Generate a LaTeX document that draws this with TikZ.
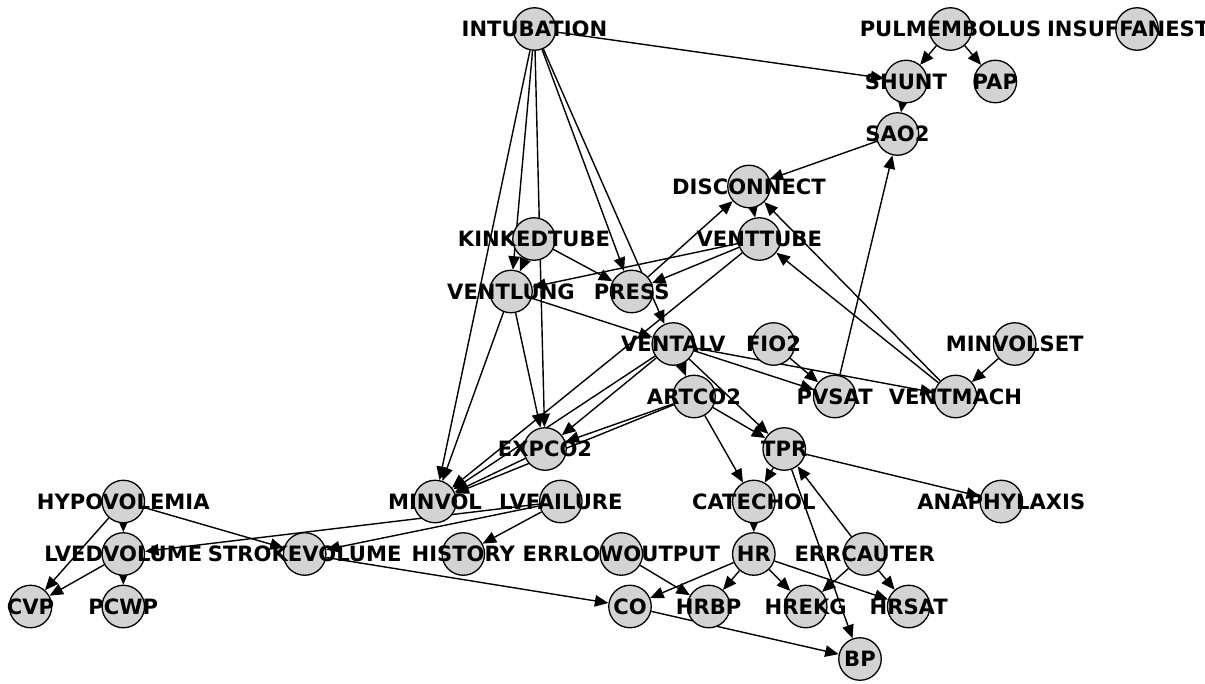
\documentclass[tikz,border=0pt]{standalone}
\usepackage{fontspec}
\setsansfont{DejaVu Sans}
\usetikzlibrary{arrows.meta}
\pgfdeclarelayer{bg}
\pgfsetlayers{bg,main}
\definecolor{nodefill}{HTML}{D3D3D3}
\tikzset{
  vert/.style={circle, draw=black, fill=nodefill, line width=1.3pt,
    minimum size=42.5pt, inner sep=0pt},
  lbl/.style={anchor=base, yshift=-7.65pt, inner sep=0pt,
    font=\sffamily\bfseries\fontsize{21.1}{25}\selectfont},
  edge/.style={line width=1.4pt, -{Triangle[length=13.5pt,width=11.5pt]}}
}
\begin{document}
\begin{tikzpicture}[x=1pt,y=-1pt]
\useasboundingbox (0,0) rectangle (1205,683);
\clip (0,0) rectangle (1205,683);
% variables of the network
\foreach \n/\x/\y in {
  INTUBATION/534.5/29, PULMEMBOLUS/950.5/29, INSUFFANESTH/1137/29,
  SHUNT/906/81.5, PAP/995.3/81.5, SAO2/897.5/134,
  DISCONNECT/749/186.5, KINKEDTUBE/534/239, VENTTUBE/759.3/239,
  VENTLUNG/511/291.5, PRESS/631.7/291.5,
  VENTALV/673.3/344, FIO2/773.5/344, MINVOLSET/1014.7/344,
  ARTCO2/694/396.5, PVSAT/834.7/396.5, VENTMACH/955.5/396.5,
  EXPCO2/545/449, TPR/784.2/449,
  HYPOVOLEMIA/123.3/501.5, MINVOL/435/501.5, LVFAILURE/560.8/501.5,
  CATECHOL/753.8/501.5, ANAPHYLAXIS/1001.3/501.5,
  LVEDVOLUME/123.3/554, STROKEVOLUME/304.7/554, HISTORY/463.3/554,
  ERRLOWOUTPUT/621.3/554, HR/753.8/554, ERRCAUTER/864.7/554,
  CVP/30.5/606.5, PCWP/123.3/606.5, CO/630/606.5, HRBP/708.7/606.5,
  HREKG/805.7/606.5, HRSAT/908.7/606.5, BP/860/659}
  \node[vert] (\n) at (\x,\y) {};
% directed dependencies, kept behind the circles
\begin{pgfonlayer}{bg}
\foreach \a/\b in {
  INTUBATION/SHUNT, INTUBATION/VENTLUNG, INTUBATION/MINVOL,
  INTUBATION/EXPCO2, INTUBATION/PRESS, INTUBATION/VENTALV,
  PULMEMBOLUS/SHUNT, PULMEMBOLUS/PAP, SHUNT/SAO2,
  SAO2/DISCONNECT, PVSAT/SAO2, PRESS/DISCONNECT,
  VENTMACH/DISCONNECT, VENTMACH/VENTTUBE, DISCONNECT/VENTTUBE,
  VENTTUBE/VENTLUNG, VENTTUBE/PRESS, VENTTUBE/MINVOL,
  KINKEDTUBE/VENTLUNG, KINKEDTUBE/PRESS,
  VENTLUNG/VENTALV, VENTLUNG/EXPCO2, VENTLUNG/MINVOL,
  VENTALV/ARTCO2, VENTALV/PVSAT, VENTALV/VENTMACH, VENTALV/TPR,
  VENTALV/EXPCO2, VENTALV/MINVOL,
  FIO2/PVSAT, MINVOLSET/VENTMACH,
  ARTCO2/EXPCO2, ARTCO2/MINVOL, ARTCO2/TPR, ARTCO2/CATECHOL,
  EXPCO2/MINVOL,
  TPR/CATECHOL, TPR/ANAPHYLAXIS, TPR/BP,
  ERRCAUTER/TPR, ERRCAUTER/HREKG, ERRCAUTER/HRSAT,
  CATECHOL/HR, HR/CO, HR/HRBP, HR/HREKG, HR/HRSAT,
  ERRLOWOUTPUT/HRBP, CO/BP, STROKEVOLUME/CO,
  LVFAILURE/LVEDVOLUME, LVFAILURE/STROKEVOLUME, LVFAILURE/HISTORY,
  HYPOVOLEMIA/LVEDVOLUME, HYPOVOLEMIA/STROKEVOLUME, HYPOVOLEMIA/CVP,
  LVEDVOLUME/CVP, LVEDVOLUME/PCWP}
  \draw[edge] (\a) -- (\b);
\end{pgfonlayer}
% names written over everything
\foreach \n in {INTUBATION, PULMEMBOLUS, INSUFFANESTH, SHUNT, PAP, SAO2,
  DISCONNECT, KINKEDTUBE, VENTTUBE, VENTLUNG, PRESS, VENTALV, FIO2,
  MINVOLSET, ARTCO2, PVSAT, VENTMACH, EXPCO2, TPR, HYPOVOLEMIA, MINVOL,
  LVFAILURE, CATECHOL, ANAPHYLAXIS, LVEDVOLUME, STROKEVOLUME, HISTORY,
  ERRLOWOUTPUT, HR, ERRCAUTER, CVP, PCWP, CO, HRBP, HREKG, HRSAT, BP}
  \node[lbl] (l-\n) at (\n.center) {\n};
\end{tikzpicture}
\end{document}
